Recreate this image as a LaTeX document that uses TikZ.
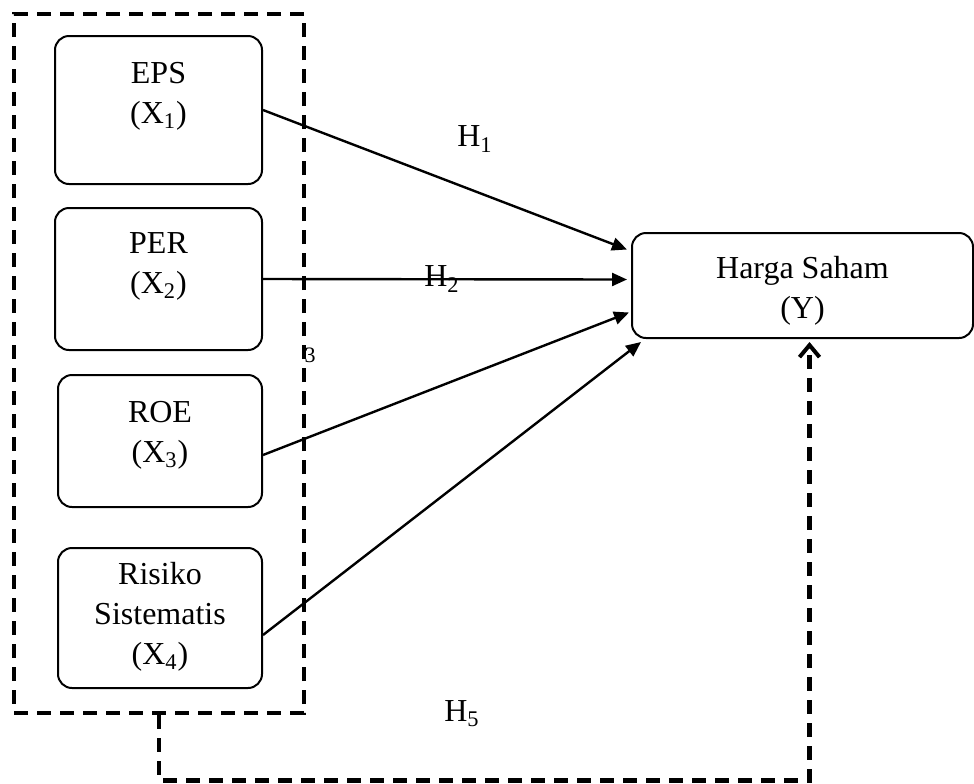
\documentclass[tikz,border=0pt]{standalone}
\usepackage{fontspec}
\setmainfont{Liberation Serif}
\usetikzlibrary{arrows.meta,calc}

\begin{document}
\begin{tikzpicture}[x=0.5pt,y=-0.5pt,
    varbox/.style={draw, line width=1pt, rounded corners=7pt},
    vartext/.style={font=\fontsize{16}{20}\selectfont, align=center, inner sep=0pt},
    grpbox/.style={draw, line width=2.4pt, dash pattern=on 7pt off 4.5pt,
      minimum width=145pt, minimum height=349.5pt},
    arr/.style={-{Triangle[length=7.5pt,width=6.5pt]}, line width=1.2pt},
    fb/.style={line width=2.4pt, dash pattern=on 7pt off 4.5pt,
      -{Straight Barb[length=6pt,width=10pt,line width=2pt]}},
    hyp/.style={font=\fontsize{16}{19}\selectfont, inner sep=0pt}
  ]
  \useasboundingbox (0,0) rectangle (974,783);

  % dashed group of independent variables
  \node[grpbox] (grp) at (159,363.5) {};

  % variable boxes
  \node[varbox, minimum width=103.5pt, minimum height=74pt] (eps) at (158.5,110) {};
  \node[varbox, minimum width=103.5pt, minimum height=71pt] (per) at (158.5,279) {};
  \node[varbox, minimum width=102pt, minimum height=66pt] (roe) at (160,441) {};
  \node[varbox, minimum width=102pt, minimum height=70pt] (risk) at (160,618) {};
  \node[varbox, minimum width=170.5pt, minimum height=52.5pt] (hs) at (802.5,285.5) {};

  \node[vartext] (epst) at (158.5,96) {EPS\\(X\textsubscript{1})};
  \node[vartext] (pert) at (158.5,266) {PER\\(X\textsubscript{2})};
  \node[vartext] (roet) at (160,435) {ROE\\(X\textsubscript{3})};
  \node[vartext] (riskt) at (160,617) {Risiko\\Sistematis\\(X\textsubscript{4})};
  \node[vartext] (hst) at (802.5,291) {Harga Saham\\(Y)};

  % hypothesis labels
  \node[hyp] (h1) at (475,139) {H\textsubscript{1}};
  \node[hyp] (h2) at (442,279) {H\textsubscript{2}};
  \node[hyp] (h5) at (462,714) {H\textsubscript{5}};
  \node[font=\fontsize{11}{13}\selectfont, inner sep=0pt] (n3) at (310,355) {3};

  % partial paths
  \draw[arr] (eps.east) -- ($(hs.west)+(-4,-36)$);
  \draw[arr] (per.east) -- ($(hs.west)+(-4,-6)$);
  \draw[arr] ($(roe.east)+(0,14)$) -- ($(hs.west)+(-2,27)$);
  \draw[arr] ($(risk.east)+(0,17)$) -- ($(hs.south west)+(10,3)$);

  % simultaneous path
  \coordinate (fb1) at ($(grp.south)+(0,65)$);
  \coordinate (fb2) at ($(hs.south)+(7,3)$);
  \draw[fb] (grp.south) -- (fb1) -- (fb1 -| fb2) -- (fb2);

\end{tikzpicture}
\end{document}
